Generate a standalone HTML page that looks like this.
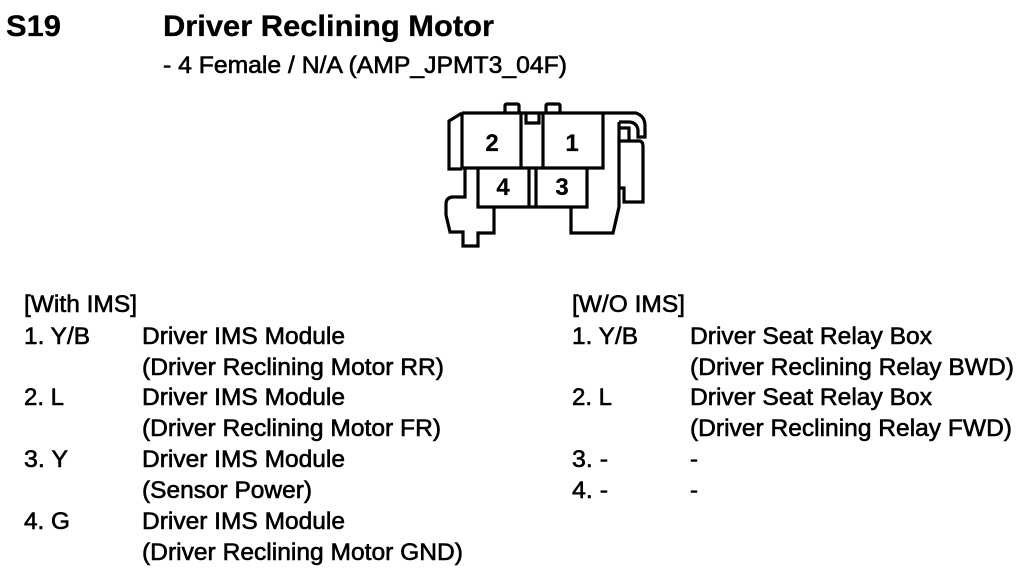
<!DOCTYPE html>
<html><head><meta charset="utf-8"><style>
html,body{margin:0;padding:0;background:#fff}
body{width:1026px;height:572px;overflow:hidden;position:relative}
svg{position:absolute;left:0;top:0}
text{font-family:"Liberation Sans",sans-serif;font-size:24px;fill:#000;stroke:#000;stroke-width:.6px}
.h{font-size:30px;font-weight:bold;stroke-width:.3px}
.n{font-size:24px;font-weight:bold;stroke-width:.2px;text-anchor:middle}
</style></head><body>
<svg width="1026" height="572" viewBox="0 0 1026 572">
<text class="h" x="6" y="36" textLength="55" lengthAdjust="spacingAndGlyphs">S19</text>
<text class="h" x="163" y="36" textLength="331" lengthAdjust="spacingAndGlyphs">Driver Reclining Motor</text>
<text x="163" y="73" textLength="404" lengthAdjust="spacingAndGlyphs">- 4 Female / N/A (AMP_JPMT3_04F)</text>

<g fill="none" stroke="#000" stroke-width="3.2">
<path d="M462 113H636Q645 116 645 126V137H638V130Q637 123 630 122H619"/>
<path d="M620 128H629V140"/>
<path d="M462 113L449 121V169H462"/>
<path d="M462 113V168H603V113"/>
<path d="M521 113V168M543 113V168"/>
<path d="M526 113V123H539V113"/>
<path d="M505 113V106Q505 104 507 104H517Q519 104 519 106V113"/>
<path d="M546 113V106Q546 104 548 104H558Q560 104 560 106V113"/>
<path d="M478 168V207H587V168"/>
<path d="M529 168V207M536 168V207"/>
<path d="M620 141H640Q643 142 643 146V202H624V188H619"/>
<path d="M619 122V207L613 233H571V207"/>
<path d="M465 168V197H452Q446 198 446 204V215L450 232H463V246H478V233H494V207"/>
</g>
<text class="n" x="492" y="151">2</text>
<text class="n" x="572" y="151">1</text>
<text class="n" x="503" y="195">4</text>
<text class="n" x="562" y="195">3</text>

<text x="24" y="312" textLength="113" lengthAdjust="spacingAndGlyphs">[With IMS]</text>
<text x="24" y="344" textLength="66" lengthAdjust="spacingAndGlyphs">1. Y/B</text>
<text x="142" y="344" textLength="203" lengthAdjust="spacingAndGlyphs">Driver IMS Module</text>
<text x="142" y="375" textLength="302" lengthAdjust="spacingAndGlyphs">(Driver Reclining Motor RR)</text>
<text x="24" y="405" textLength="40" lengthAdjust="spacingAndGlyphs">2. L</text>
<text x="142" y="405" textLength="203" lengthAdjust="spacingAndGlyphs">Driver IMS Module</text>
<text x="142" y="436" textLength="299" lengthAdjust="spacingAndGlyphs">(Driver Reclining Motor FR)</text>
<text x="24" y="467" textLength="44" lengthAdjust="spacingAndGlyphs">3. Y</text>
<text x="142" y="467" textLength="203" lengthAdjust="spacingAndGlyphs">Driver IMS Module</text>
<text x="142" y="498" textLength="170" lengthAdjust="spacingAndGlyphs">(Sensor Power)</text>
<text x="24" y="529" textLength="46" lengthAdjust="spacingAndGlyphs">4. G</text>
<text x="142" y="529" textLength="203" lengthAdjust="spacingAndGlyphs">Driver IMS Module</text>
<text x="142" y="560" textLength="321" lengthAdjust="spacingAndGlyphs">(Driver Reclining Motor GND)</text>

<text x="572" y="312" textLength="113" lengthAdjust="spacingAndGlyphs">[W/O IMS]</text>
<text x="572" y="344" textLength="66" lengthAdjust="spacingAndGlyphs">1. Y/B</text>
<text x="690" y="344" textLength="242" lengthAdjust="spacingAndGlyphs">Driver Seat Relay Box</text>
<text x="690" y="375" textLength="324" lengthAdjust="spacingAndGlyphs">(Driver Reclining Relay BWD)</text>
<text x="572" y="405" textLength="40" lengthAdjust="spacingAndGlyphs">2. L</text>
<text x="690" y="405" textLength="242" lengthAdjust="spacingAndGlyphs">Driver Seat Relay Box</text>
<text x="690" y="436" textLength="322" lengthAdjust="spacingAndGlyphs">(Driver Reclining Relay FWD)</text>
<text x="572" y="467" textLength="36" lengthAdjust="spacingAndGlyphs">3. -</text>
<text x="690" y="467">-</text>
<text x="572" y="498" textLength="36" lengthAdjust="spacingAndGlyphs">4. -</text>
<text x="690" y="498">-</text>
</svg>
</body></html>
